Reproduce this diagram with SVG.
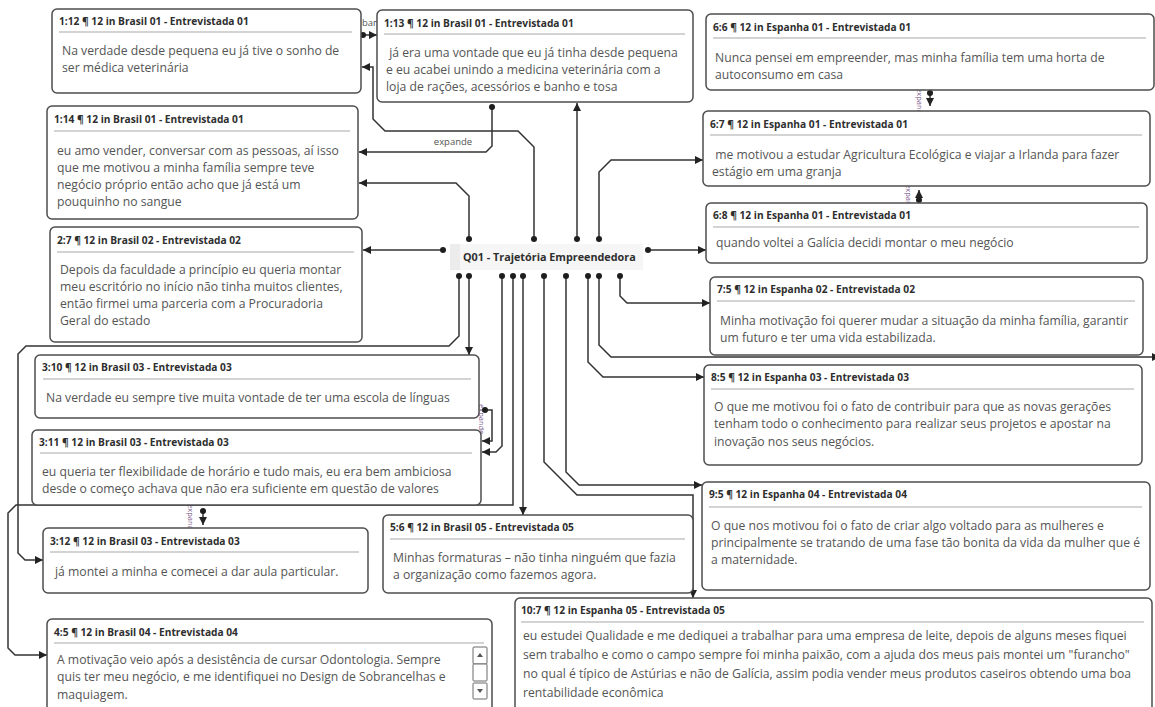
<svg xmlns="http://www.w3.org/2000/svg" width="1155" height="707" viewBox="0 0 1155 707">
  <style>
    .box { fill: #ffffff; stroke: #4d4d4d; stroke-width: 1.5; }
    .sep { stroke: #c4c4c4; stroke-width: 1.5; }
    .hdr { font-family: "Open Sans", "Noto Sans", sans-serif; font-size: 10.2px; font-weight: 700; fill: #2e2e2e; }
    .txt { font-family: "Open Sans", "Noto Sans", sans-serif; font-size: 12.2px; fill: #555555; }
    .link { fill: none; stroke: #333333; stroke-width: 1.5; marker-end: url(#arrow); }
    .dotted { marker-start: url(#dot); }
    .lbl { font-family: "Open Sans", "Noto Sans", sans-serif; font-size: 9.5px; fill: #555555; }
    .rlbl { font-family: "Open Sans", "Noto Sans", sans-serif; font-size: 7.5px; fill: #7a5a8c; }
    .sb { fill: #ffffff; stroke: #6a6a6a; stroke-width: 1; }
  </style>
  <defs>
    <marker id="arrow" markerUnits="userSpaceOnUse" markerWidth="9" markerHeight="9" refX="8" refY="4.5" orient="auto">
      <path d="M0,0.5 L8,4.5 L0,8.5 z" fill="#222222"/>
    </marker>
    <marker id="dot" markerUnits="userSpaceOnUse" markerWidth="8" markerHeight="8" refX="4" refY="4" orient="auto">
      <circle cx="4" cy="4" r="3" fill="#1e1e1e"/>
    </marker>
    <clipPath id="clip45">
      <rect x="47" y="619" width="445" height="83"/>
    </clipPath>
  </defs>

  <rect width="1155" height="707" fill="#ffffff"/>

  <!-- relation labels squeezed between neighbouring cards (partly covered by the cards) -->
  <g id="link-labels">
    <text class="lbl" x="362" y="26">ban</text>
    <text class="lbl" x="453" y="145" text-anchor="middle">expande</text>
    <text class="rlbl" transform="translate(479,404) rotate(90)">expande</text>
    <text class="rlbl" transform="translate(917,88) rotate(90)">expande</text>
    <text class="rlbl" transform="translate(906,184) rotate(90)">expande</text>
    <text class="rlbl" transform="translate(188,504) rotate(90)">expande</text>
  </g>

  <g id="connectors">
    <!-- card to card -->
    <path class="link dotted" d="M363,35 H377"/>
    <path class="link dotted" d="M492,107 V146 L486,152 H359"/>
    <path class="link dotted" d="M485,410 H492 V441 H482"/>
    <path class="link dotted" d="M930,93 V106"/>
    <path class="link dotted" d="M919,200 V190"/>
    <path class="link dotted" d="M203,511 V525"/>
    <!-- from the code node, upwards -->
    <path class="link dotted" d="M577,239 V103"/>
    <path class="link dotted" d="M534,239 V147 L518,131 H385 L373,119 V67 H362"/>
    <path class="link dotted" d="M469,239 V196 L456,183 H359"/>
    <path class="link dotted" d="M599,239 V172 L611,160 H703"/>
    <!-- from the code node, sideways -->
    <path class="link dotted" d="M443,250 H363"/>
    <path class="link dotted" d="M648,250 H706"/>
    <!-- from the code node, downwards -->
    <path class="link dotted" d="M469,276 V355"/>
    <path class="link dotted" d="M459,276 V336 L449,346 H26 L18,354 V553 L25,560 H43"/>
    <path class="link dotted" d="M502,276 V446 L496,452 H482"/>
    <path class="link dotted" d="M513,276 V505 H16 L8,513 V648 L15,655 H47"/>
    <path class="link dotted" d="M523,276 V515"/>
    <path class="link dotted" d="M544,276 V462 L577,495 H693 V598"/>
    <path class="link dotted" d="M566,276 V472 L579,485 H702"/>
    <path class="link dotted" d="M588,276 V362 L603,377 H704"/>
    <path class="link dotted" d="M599,276 V345 L611,357 H1160"/>
    <path class="link dotted" d="M620,276 V296 L627,303 H710"/>
  </g>

  <g id="q01">
    <rect x="450" y="244" width="193" height="26" fill="#f6f6f6"/>
    <rect x="450" y="244" width="10" height="26" fill="#ececec"/>
    <text x="463" y="261" font-family="'Open Sans', 'Noto Sans', sans-serif" font-size="10.8" font-weight="700" fill="#2e2e2e">Q01 - Trajetória Empreendedora</text>
  </g>

  <g id="n1-12">
    <rect class="box" x="52" y="9" width="309" height="84" rx="5"/>
    <text class="hdr" x="59" y="25">1:12 ¶ 12 in Brasil 01 - Entrevistada 01</text>
    <line class="sep" x1="59" y1="32" x2="352" y2="32"/>
    <text class="txt" x="62" y="55">Na verdade desde pequena eu já tive o sonho de</text>
    <text class="txt" x="62" y="72">ser médica veterinária</text>
  </g>

  <g id="n1-13">
    <rect class="box" x="377" y="10" width="316" height="92" rx="5"/>
    <text class="hdr" x="384" y="27">1:13 ¶ 12 in Brasil 01 - Entrevistada 01</text>
    <line class="sep" x1="384" y1="34" x2="685" y2="34"/>
    <text class="txt" x="386" y="57" xml:space="preserve"> já era uma vontade que eu já tinha desde pequena</text>
    <text class="txt" x="386" y="74">e eu acabei unindo a medicina veterinária com a</text>
    <text class="txt" x="386" y="91">loja de rações, acessórios e banho e tosa</text>
  </g>

  <g id="n6-6">
    <rect class="box" x="706" y="14" width="448" height="76" rx="5"/>
    <text class="hdr" x="713" y="31">6:6 ¶ 12 in Espanha 01 - Entrevistada 01</text>
    <line class="sep" x1="713" y1="38" x2="1146" y2="38"/>
    <text class="txt" x="715" y="62">Nunca pensei em empreender, mas minha família tem uma horta de</text>
    <text class="txt" x="715" y="79">autoconsumo em casa</text>
  </g>

  <g id="n1-14">
    <rect class="box" x="47" y="106" width="311" height="113" rx="5"/>
    <text class="hdr" x="54" y="123">1:14 ¶ 12 in Brasil 01 - Entrevistada 01</text>
    <line class="sep" x1="54" y1="131" x2="350" y2="131"/>
    <text class="txt" x="57" y="155">eu amo vender, conversar com as pessoas, aí isso</text>
    <text class="txt" x="57" y="172">que me motivou a minha família sempre teve</text>
    <text class="txt" x="57" y="189">negócio próprio então acho que já está um</text>
    <text class="txt" x="57" y="206">pouquinho no sangue</text>
  </g>

  <g id="n6-7">
    <rect class="box" x="703" y="111" width="447" height="75" rx="5"/>
    <text class="hdr" x="710" y="128">6:7 ¶ 12 in Espanha 01 - Entrevistada 01</text>
    <line class="sep" x1="710" y1="135" x2="1142" y2="135"/>
    <text class="txt" x="712" y="159" xml:space="preserve"> me motivou a estudar Agricultura Ecológica e viajar a Irlanda para fazer</text>
    <text class="txt" x="712" y="176">estágio em uma granja</text>
  </g>

  <g id="n6-8">
    <rect class="box" x="706" y="203" width="441" height="60" rx="5"/>
    <text class="hdr" x="713" y="219">6:8 ¶ 12 in Espanha 01 - Entrevistada 01</text>
    <line class="sep" x1="713" y1="227" x2="1139" y2="227"/>
    <text class="txt" x="716" y="247">quando voltei a Galícia decidi montar o meu negócio</text>
  </g>

  <g id="n2-7">
    <rect class="box" x="50" y="227" width="312" height="115" rx="5"/>
    <text class="hdr" x="57" y="244">2:7 ¶ 12 in Brasil 02 - Entrevistada 02</text>
    <line class="sep" x1="57" y1="252" x2="354" y2="252"/>
    <text class="txt" x="60" y="274">Depois da faculdade a princípio eu queria montar</text>
    <text class="txt" x="60" y="291">meu escritório no início não tinha muitos clientes,</text>
    <text class="txt" x="60" y="308">então firmei uma parceria com a Procuradoria</text>
    <text class="txt" x="60" y="325">Geral do estado</text>
  </g>

  <g id="n7-5">
    <rect class="box" x="710" y="277" width="433" height="78" rx="5"/>
    <text class="hdr" x="717" y="293">7:5 ¶ 12 in Espanha 02 - Entrevistada 02</text>
    <line class="sep" x1="717" y1="301" x2="1135" y2="301"/>
    <text class="txt" x="720" y="325">Minha motivação foi querer mudar a situação da minha família, garantir</text>
    <text class="txt" x="720" y="342">um futuro e ter uma vida estabilizada.</text>
  </g>

  <g id="n3-10">
    <rect class="box" x="35" y="355" width="444" height="63" rx="5"/>
    <text class="hdr" x="42" y="371">3:10 ¶ 12 in Brasil 03 - Entrevistada 03</text>
    <line class="sep" x1="43" y1="379" x2="471" y2="379"/>
    <text class="txt" x="46" y="402">Na verdade eu sempre tive muita vontade de ter uma escola de línguas</text>
  </g>

  <g id="n8-5">
    <rect class="box" x="704" y="365" width="438" height="100" rx="5"/>
    <text class="hdr" x="711" y="381">8:5 ¶ 12 in Espanha 03 - Entrevistada 03</text>
    <line class="sep" x1="711" y1="389" x2="1134" y2="389"/>
    <text class="txt" x="714" y="411">O que me motivou foi o fato de contribuir para que as novas gerações</text>
    <text class="txt" x="714" y="428">tenham todo o conhecimento para realizar seus projetos e apostar na</text>
    <text class="txt" x="714" y="446">inovação nos seus negócios.</text>
  </g>

  <g id="n3-11">
    <rect class="box" x="32" y="430" width="449" height="75" rx="5"/>
    <text class="hdr" x="39" y="446">3:11 ¶ 12 in Brasil 03 - Entrevistada 03</text>
    <line class="sep" x1="40" y1="453" x2="472" y2="453"/>
    <text class="txt" x="42" y="476">eu queria ter flexibilidade de horário e tudo mais, eu era bem ambiciosa</text>
    <text class="txt" x="42" y="493">desde o começo achava que não era suficiente em questão de valores</text>
  </g>

  <g id="n9-5">
    <rect class="box" x="702" y="482" width="448" height="108" rx="5"/>
    <text class="hdr" x="709" y="498">9:5 ¶ 12 in Espanha 04 - Entrevistada 04</text>
    <line class="sep" x1="709" y1="507" x2="1142" y2="507"/>
    <text class="txt" x="711" y="530">O que nos motivou foi o fato de criar algo voltado para as mulheres e</text>
    <text class="txt" x="711" y="547">principalmente se tratando de uma fase tão bonita da vida da mulher que é</text>
    <text class="txt" x="711" y="564">a maternidade.</text>
  </g>

  <g id="n5-6">
    <rect class="box" x="383" y="515" width="310" height="78" rx="5"/>
    <text class="hdr" x="390" y="531">5:6 ¶ 12 in Brasil 05 - Entrevistada 05</text>
    <line class="sep" x1="390" y1="539" x2="685" y2="539"/>
    <text class="txt" x="393" y="562">Minhas formaturas – não tinha ninguém que fazia</text>
    <text class="txt" x="393" y="579">a organização como fazemos agora.</text>
  </g>

  <g id="n3-12">
    <rect class="box" x="43" y="528" width="325" height="65" rx="5"/>
    <text class="hdr" x="50" y="545">3:12 ¶ 12 in Brasil 03 - Entrevistada 03</text>
    <line class="sep" x1="50" y1="552" x2="359" y2="552"/>
    <text class="txt" x="55" y="576">já montei a minha e comecei a dar aula particular.</text>
  </g>

  <g id="n4-5">
    <rect class="box" x="47" y="619" width="445" height="95" rx="5"/>
    <text class="hdr" x="54" y="636">4:5 ¶ 12 in Brasil 04 - Entrevistada 04</text>
    <line class="sep" x1="54" y1="643" x2="484" y2="643"/>
    <g clip-path="url(#clip45)">
      <text class="txt" x="57" y="664">A motivação veio após a desistência de cursar Odontologia. Sempre</text>
      <text class="txt" x="57" y="681">quis ter meu negócio, e me identifiquei no Design de Sobrancelhas e</text>
      <text class="txt" x="57" y="699">maquiagem.</text>
    </g>
    <!-- scrollbar of the quotation card -->
    <rect class="sb" x="473" y="647" width="14" height="17" rx="1"/>
    <path d="M477,657 L480,653 L483,657 z" fill="#555555"/>
    <rect class="sb" x="473" y="664" width="14" height="17" rx="1"/>
    <rect class="sb" x="473" y="683" width="14" height="16" rx="1"/>
    <path d="M477,689 L483,689 L480,693 z" fill="#555555"/>
  </g>

  <g id="n10-7">
    <rect class="box" x="515" y="598" width="637" height="120" rx="5"/>
    <text class="hdr" x="521" y="614">10:7 ¶ 12 in Espanha 05 - Entrevistada 05</text>
    <line class="sep" x1="521" y1="622" x2="1144" y2="622"/>
    <text class="txt" x="523" y="640">eu estudei Qualidade e me dediquei a trabalhar para uma empresa de leite, depois de alguns meses fiquei</text>
    <text class="txt" x="523" y="659">sem trabalho e como o campo sempre foi minha paixão, com a ajuda dos meus pais montei um "furancho"</text>
    <text class="txt" x="523" y="678">no qual é típico de Astúrias e não de Galícia, assim podia vender meus produtos caseiros obtendo uma boa</text>
    <text class="txt" x="523" y="697">rentabilidade econômica</text>
  </g>
</svg>
